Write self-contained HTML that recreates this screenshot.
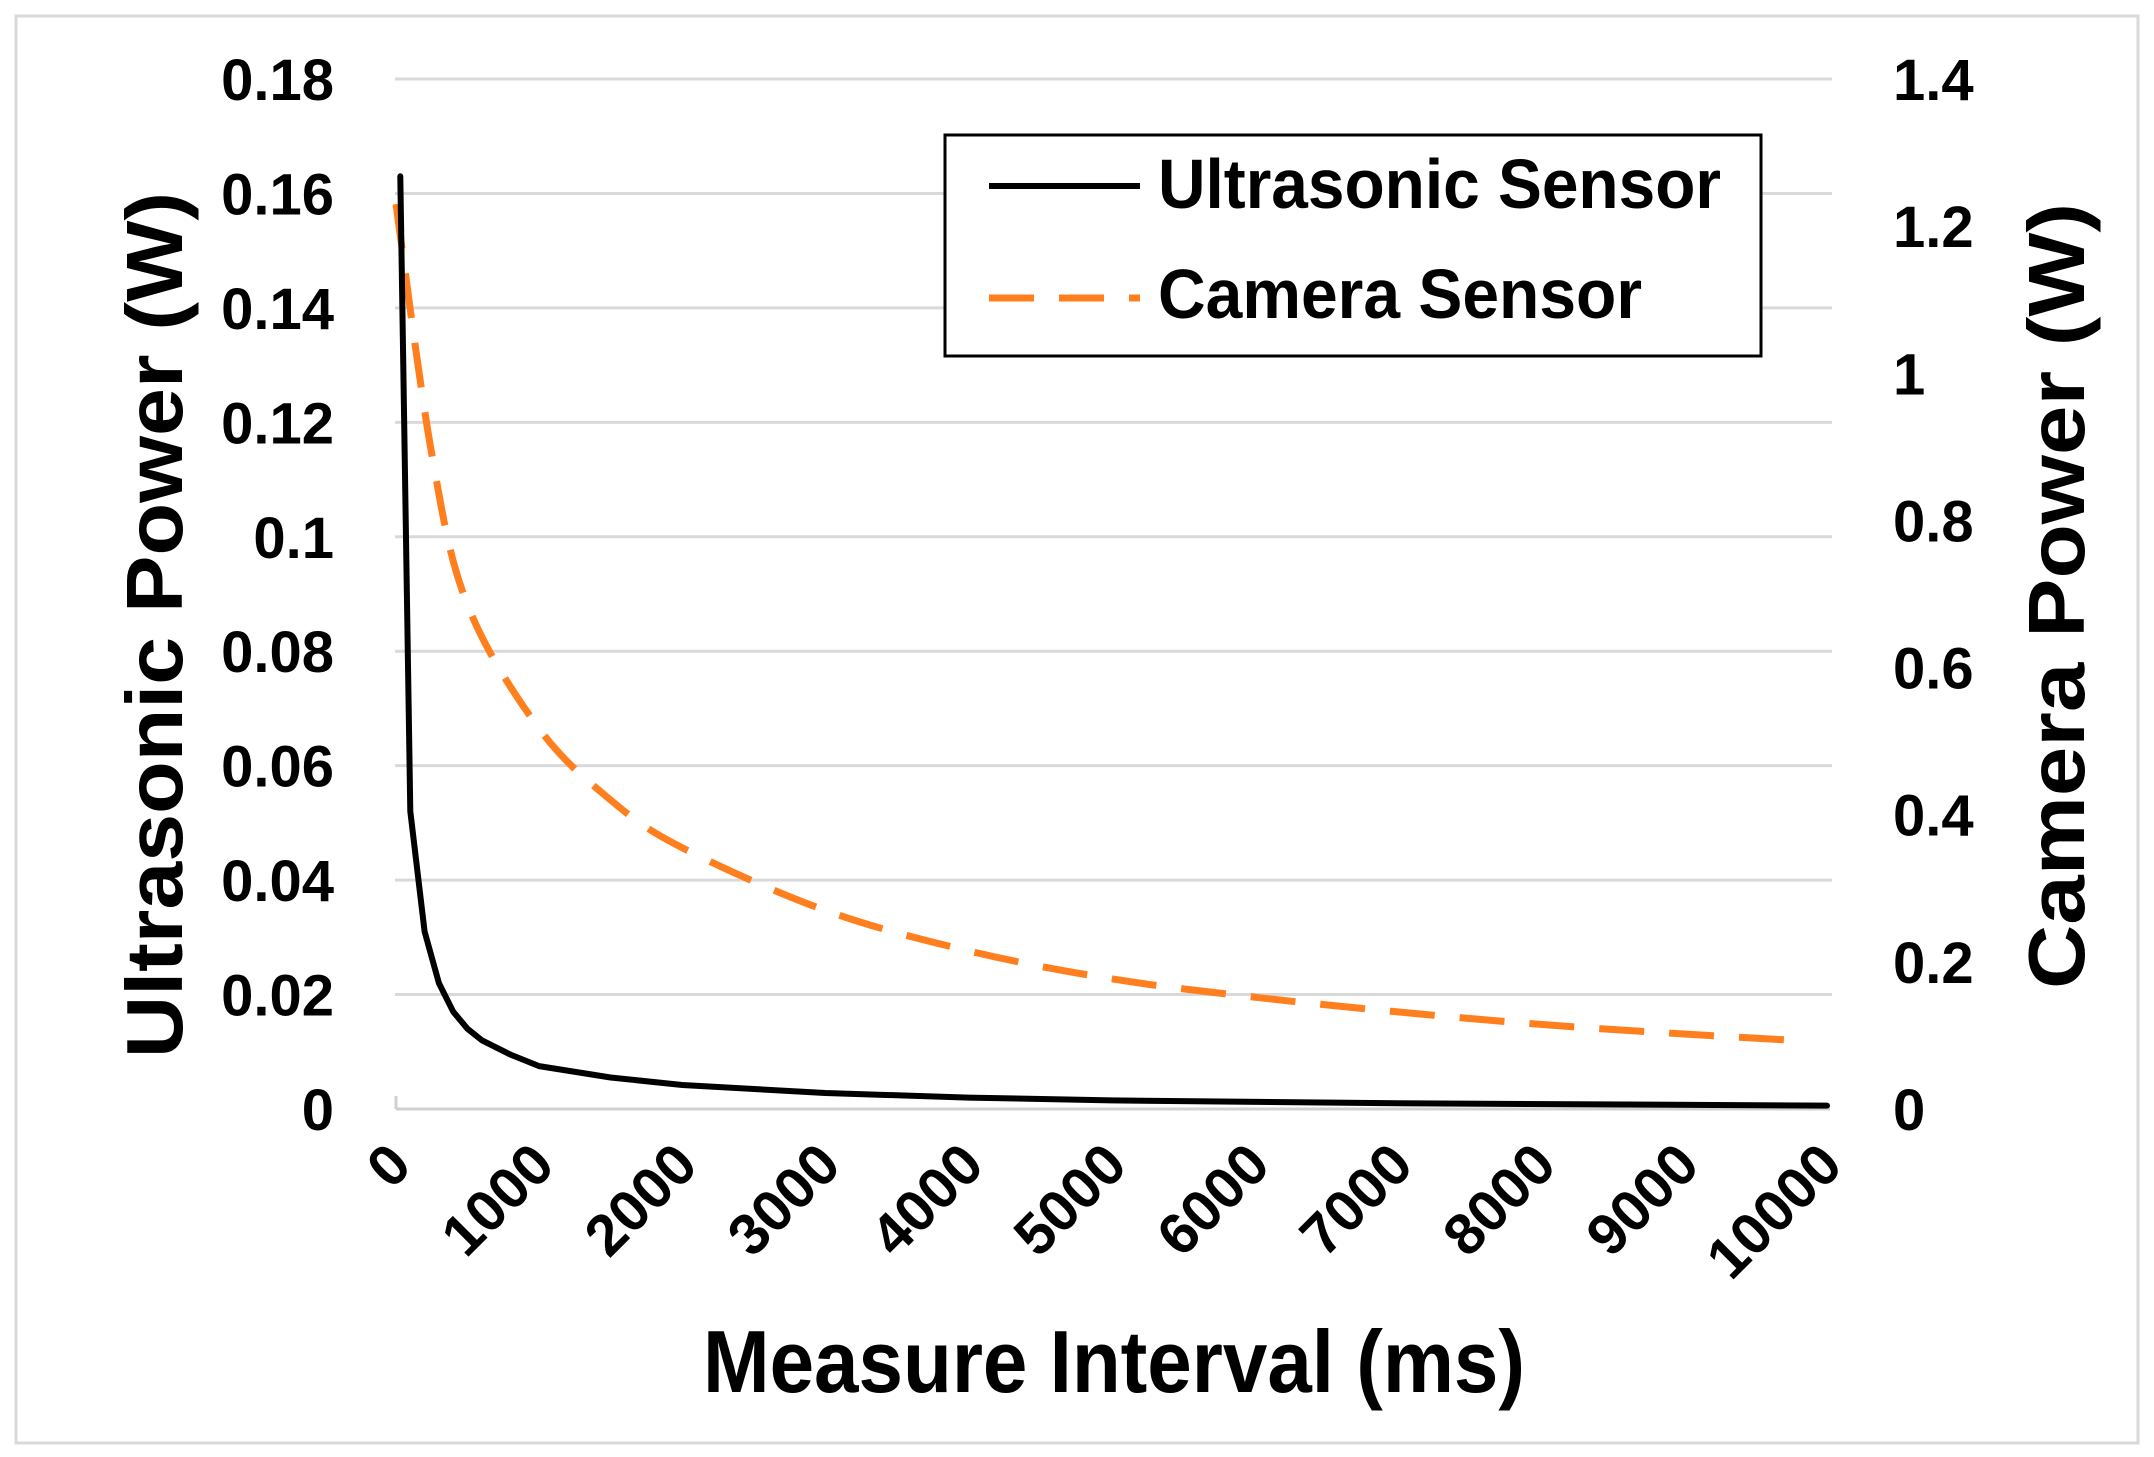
<!DOCTYPE html>
<html><head><meta charset="utf-8">
<style>
html,body{margin:0;padding:0;background:#fff;}
svg{display:block;}
text{font-family:"Liberation Sans",Arial,sans-serif;font-weight:bold;fill:#000;}
</style></head>
<body>
<svg id="s" width="2154" height="1457" viewBox="0 0 2154 1457" xmlns="http://www.w3.org/2000/svg">
<rect x="0" y="0" width="2154" height="1457" fill="#fff"/>
<rect x="16" y="16" width="2122" height="1427" fill="none" stroke="#d9d9d9" stroke-width="3"/>
<g id="grid" stroke="#d9d9d9" stroke-width="3"></g>
<line x1="396" y1="1109" x2="1830" y2="1109" stroke="#d0d0d0" stroke-width="3"/>
<line x1="396" y1="1096" x2="396" y2="1109" stroke="#d0d0d0" stroke-width="3"/>
<g id="lt" font-size="58" text-anchor="end"></g>
<g id="rt" font-size="58" text-anchor="start"></g>
<g id="xt" font-size="58" text-anchor="end"></g>
<path id="cam" fill="none" stroke="#ff7f1e" stroke-width="7" stroke-dasharray="45 25"/>
<path id="ult" fill="none" stroke="#000" stroke-width="6" stroke-linejoin="round" stroke-linecap="round"/>
<rect x="945" y="135" width="816" height="221" fill="#fff" stroke="#000" stroke-width="3"/>
<line x1="989" y1="186" x2="1140" y2="186" stroke="#000" stroke-width="6"/>
<line x1="989" y1="298" x2="1140" y2="298" stroke="#ff7f1e" stroke-width="7" stroke-dasharray="45 25"/>
<text x="1158" y="208" font-size="70" textLength="563" lengthAdjust="spacingAndGlyphs">Ultrasonic Sensor</text>
<text x="1158" y="318" font-size="70" textLength="484" lengthAdjust="spacingAndGlyphs">Camera Sensor</text>
<text transform="translate(182,625) rotate(-90)" font-size="80" text-anchor="middle" textLength="866" lengthAdjust="spacingAndGlyphs">Ultrasonic Power (W)</text>
<text transform="translate(2084,596) rotate(-90)" font-size="80" text-anchor="middle" textLength="786" lengthAdjust="spacingAndGlyphs">Camera Power (W)</text>
<text x="1114" y="1392" font-size="88" text-anchor="middle" textLength="822" lengthAdjust="spacingAndGlyphs">Measure Interval (ms)</text>
</svg>
<script>
var NS="http://www.w3.org/2000/svg";
function el(p,t,a,txt){var e=document.createElementNS(NS,t);for(var k in a)e.setAttribute(k,a[k]);if(txt!=null)e.textContent=txt;document.getElementById(p).appendChild(e);}
var y0=1109,H=1030,x0=396,W=1431;
var L=["0","0.02","0.04","0.06","0.08","0.1","0.12","0.14","0.16","0.18"];
for(var i=0;i<10;i++){var y=y0-i*H/9;
 if(i>0)el("grid","line",{x1:395,y1:y,x2:1832,y2:y});
 el("lt","text",{x:334,y:y+21},L[i]);}
var R=["0","0.2","0.4","0.6","0.8","1","1.2","1.4"];
for(var i=0;i<8;i++){var y=y0-i*H/7;el("rt","text",{x:1893,y:y+21},R[i]);}
for(var i=0;i<=10;i++){var x=x0+i*W/10;
 el("xt","text",{transform:"translate("+(x+18)+",1168) rotate(-45)"},String(i*1000));}
function X(v){return x0+v/10000*W;}
var U=[[30,0.163],[100,0.052],[200,0.031],[300,0.022],[400,0.017],[500,0.014],[600,0.012],[800,0.0095],[1000,0.0075],[1500,0.0055],[2000,0.0042],[3000,0.0028],[4000,0.002],[5000,0.0015],[7000,0.001],[10000,0.0006]];
var u="";
U.forEach(function(p,i){u+=(i?"L":"M")+X(p[0]).toFixed(1)+","+(y0-p[1]/0.18*H).toFixed(1);});
var C=[[0,1.23],[250,0.89],[500,0.685],[1000,0.517],[1500,0.42],[2000,0.355],[3000,0.27],[4000,0.215],[5000,0.177],[6000,0.152],[7000,0.132],[8000,0.115],[9000,0.102],[9800,0.093]];
var pts=C.map(function(p){return [X(p[0]),y0-p[1]/1.4*H];});
var c="M"+pts[0][0].toFixed(1)+","+pts[0][1].toFixed(1);
for(var i=0;i<pts.length-1;i++){
 var p0=pts[Math.max(0,i-1)],p1=pts[i],p2=pts[i+1],p3=pts[Math.min(pts.length-1,i+2)];
 var c1x=p1[0]+(p2[0]-p0[0])/6,c1y=p1[1]+(p2[1]-p0[1])/6,c2x=p2[0]-(p3[0]-p1[0])/6,c2y=p2[1]-(p3[1]-p1[1])/6;
 c+="C"+c1x.toFixed(1)+","+c1y.toFixed(1)+" "+c2x.toFixed(1)+","+c2y.toFixed(1)+" "+p2[0].toFixed(1)+","+p2[1].toFixed(1);}
document.getElementById("ult").setAttribute("d",u);
document.getElementById("cam").setAttribute("d",c);
</script>
</body></html>
